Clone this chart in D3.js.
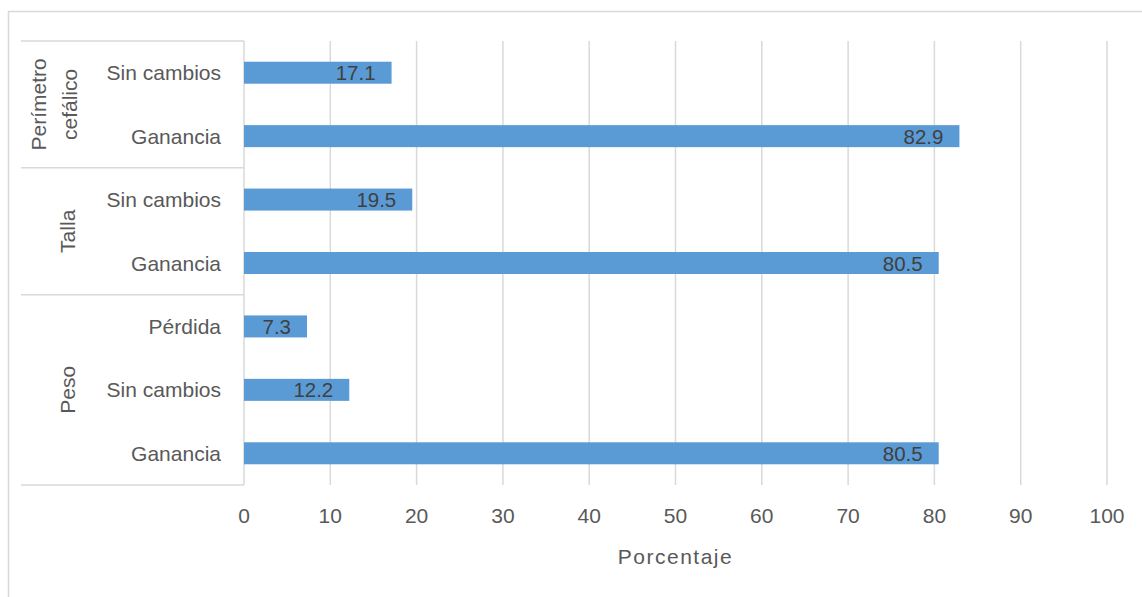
<!DOCTYPE html>
<html>
<head>
<meta charset="utf-8">
<script src="https://cdn.jsdelivr.net/npm/d3@7"></script>
<style>
  body { margin: 0; background: #fff; }
  text { font-family: "Liberation Sans", Arial, sans-serif; }
</style>
</head>
<body>
<div id="chart"></div>
<script>
// data, top row first
const groupLines = [["Perímetro", "cefálico"], ["Talla"], ["Peso"]];
const rowGroups = [0, 0, 1, 1, 2, 2, 2];
const rowLabels = ["Sin cambios", "Ganancia", "Sin cambios", "Ganancia", "Pérdida", "Sin cambios", "Ganancia"];
const values = [17.1, 82.9, 19.5, 80.5, 7.3, 12.2, 80.5];
const xTicks = [0, 10, 20, 30, 40, 50, 60, 70, 80, 90, 100];
const xTitle = "Porcentaje";

const W = 1142, H = 597;
const plot = { left: 244, right: 1107, top: 41, bottom: 485 };
const gridColor = "#d9d9d9";
const textColor = "#595959";

const rows = rowLabels.map((label, i) => ({ key: i, label, group: rowGroups[i], value: values[i] }));

const svg = d3.select("#chart")
  .append("svg")
  .attr("width", W)
  .attr("height", H);

// outer chart border
svg.append("path")
  .attr("d", `M8.5,${H}V11.5H${W}`)
  .attr("fill", "none")
  .attr("stroke", gridColor)
  .attr("stroke-width", 1.5);

const x = d3.scaleLinear()
  .domain([0, 100])
  .range([plot.left, plot.right]);

const pad = 0.653;
const y = d3.scaleBand()
  .domain(rows.map((d) => d.key))
  .range([plot.top, plot.bottom])
  .paddingInner(pad)
  .paddingOuter(pad / 2);

const rowTop = (k) => y(k) - y.step() * pad / 2;

// vertical gridlines
svg.append("g")
  .selectAll("line")
  .data(xTicks)
  .enter()
  .append("line")
  .attr("x1", (d) => x(d))
  .attr("x2", (d) => x(d))
  .attr("y1", plot.top)
  .attr("y2", plot.bottom)
  .attr("stroke", gridColor)
  .attr("stroke-width", 1.5);

// group separators in the category axis
const groupIdx = d3.range(groupLines.length);
const groupBounds = groupIdx.map((g) => {
  const ks = rows.filter((d) => d.group === g).map((d) => d.key);
  return { g, top: rowTop(d3.min(ks)), bottom: rowTop(d3.max(ks)) + y.step() };
});

const seps = [plot.top, ...groupBounds.map((b) => b.bottom)];
svg.append("g")
  .selectAll("line")
  .data(seps)
  .enter()
  .append("line")
  .attr("x1", 21)
  .attr("x2", plot.left)
  .attr("y1", (d) => d)
  .attr("y2", (d) => d)
  .attr("stroke", gridColor)
  .attr("stroke-width", 1.5);

// bars
svg.append("g")
  .selectAll("rect")
  .data(rows)
  .enter()
  .append("rect")
  .attr("x", x(0))
  .attr("y", (d) => y(d.key))
  .attr("width", (d) => x(d.value) - x(0))
  .attr("height", y.bandwidth())
  .attr("fill", "#5b9bd5");

// value labels (inside end)
svg.append("g")
  .selectAll("text")
  .data(rows)
  .enter()
  .append("text")
  .attr("x", (d) => x(d.value) - 16)
  .attr("y", (d) => y(d.key) + y.bandwidth() / 2 + 7.5)
  .attr("text-anchor", "end")
  .attr("fill", "#404040")
  .style("font-size", "20.5px")
  .text((d) => d.value.toFixed(1));

// row labels
svg.append("g")
  .selectAll("text")
  .data(rows)
  .enter()
  .append("text")
  .attr("x", 221)
  .attr("y", (d) => y(d.key) + y.bandwidth() / 2 + 7.5)
  .attr("text-anchor", "end")
  .attr("fill", textColor)
  .style("font-size", "21px")
  .text((d) => d.label);

// group labels, rotated
const groupText = svg.append("g")
  .selectAll("text")
  .data(groupBounds)
  .enter()
  .append("text")
  .attr("transform", (d) => {
    const cx = groupLines[d.g].length > 1 ? 54 : 67;
    return `translate(${cx},${(d.top + d.bottom) / 2}) rotate(-90)`;
  })
  .attr("text-anchor", "middle")
  .attr("fill", textColor)
  .style("font-size", "21px");

groupText.selectAll("tspan")
  .data((d) => groupLines[d.g].map((t, i, arr) => ({ t, i, n: arr.length })))
  .enter()
  .append("tspan")
  .attr("x", 0)
  .attr("y", (d) => (d.i - (d.n - 1) / 2) * 31 + 7.5)
  .text((d) => d.t);

// x axis tick labels
svg.append("g")
  .selectAll("text")
  .data(xTicks)
  .enter()
  .append("text")
  .attr("x", (d) => x(d))
  .attr("y", 523)
  .attr("text-anchor", "middle")
  .attr("fill", textColor)
  .style("font-size", "21px")
  .text((d) => d);

// axis title
svg.append("text")
  .attr("x", (plot.left + plot.right) / 2)
  .attr("y", 564)
  .attr("text-anchor", "middle")
  .attr("fill", textColor)
  .style("font-size", "21px")
  .style("letter-spacing", "1.5px")
  .text(xTitle);
</script>
</body>
</html>
